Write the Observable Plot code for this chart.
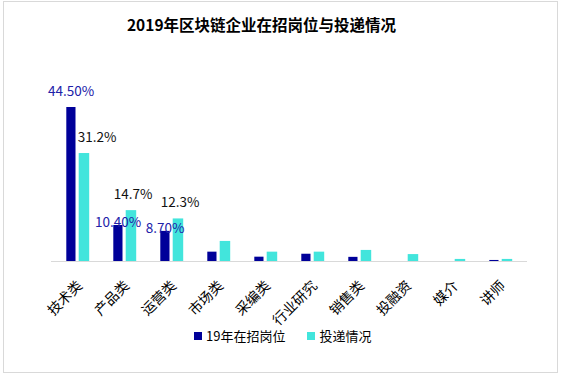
<!DOCTYPE html>
<html>
<head>
<meta charset="utf-8">
<script src="https://cdn.jsdelivr.net/npm/d3@7"></script>
<script src="https://cdn.jsdelivr.net/npm/@observablehq/plot@0.6"></script>
<style>
  html, body { margin: 0; padding: 0; background: #fff; }
  body { width: 561px; height: 376px; position: relative; overflow: hidden;
         font-family: "Noto Sans CJK SC", "Microsoft YaHei", sans-serif; }
  #frame { position: absolute; left: 3px; top: 1px; width: 555px; height: 372px;
           border: 1px solid #d9d9d9; box-sizing: border-box; }
  #title { position: absolute; left: 0; top: 13px; width: 523px; text-align: center;
           font-size: 15.5px; font-weight: bold; line-height: 22px; color: #000; }
  #chart { position: absolute; left: 0; top: 0; }
  #legend { position: absolute; top: 327px; left: 194px; display: flex; align-items: center;
            font-size: 13px; color: #000; line-height: 18px; }
  .item { display: flex; align-items: center; }
  .sw { width: 8px; height: 8px; margin-right: 4px; }
</style>
</head>
<body>
<div id="frame"></div>
<div id="chart"></div>
<div id="title">2019年区块链企业在招岗位与投递情况</div>
<div id="legend"></div>
<script>
const categories = ["技术类", "产品类", "运营类", "市场类", "采编类", "行业研究", "销售类", "投融资", "媒介", "讲师"];
const jobs = [44.5, 10.4, 8.7, 2.7, 1.25, 2.1, 1.2, 0, 0, 0.3];
const applications = [31.2, 14.7, 12.3, 5.8, 2.7, 2.7, 3.2, 2.0, 0.6, 0.6];
const jobLabels = ["44.50%", "10.40%", "8.70%", "", "", "", "", "", "", ""];
const appLabels = ["31.2%", "14.7%", "12.3%", "", "", "", "", "", "", ""];
const seriesNames = ["19年在招岗位", "投递情况"];
const colors = ["#000099", "#42E5DC"];

const jobRows = categories.map((c, i) => ({cat: c, v: jobs[i], label: jobLabels[i], idx: i}));
const appRows = categories.map((c, i) => ({cat: c, v: applications[i], label: appLabels[i], idx: i}));

const font = '"Noto Sans CJK SC", "Microsoft YaHei", sans-serif';

const chart = Plot.plot({
  width: 561,
  height: 340,
  marginLeft: 51,
  marginRight: 34,
  marginTop: 107,
  marginBottom: 79,
  style: {fontFamily: font, fontSize: "13px", color: "#000", background: "transparent"},
  x: {type: "band", domain: categories, padding: 0, label: null},
  y: {domain: [0, 44.5], axis: null},
  marks: [
    Plot.barY(jobRows, {x: "cat", y: "v", fill: colors[0], insetLeft: 12.3, insetRight: 25.5}),
    Plot.barY(appRows, {x: "cat", y: "v", fill: colors[1], insetLeft: 24.7, insetRight: 11.8}),
    Plot.ruleY([0], {stroke: "#d9d9d9", strokeWidth: 1}),
    Plot.axisX({tickSize: 0, tickPadding: 6, tickRotate: -45, fontSize: 14, dx: 2, dy: 16, label: null}),
    Plot.text(jobRows.filter(d => d.label && d.idx === 0), {x: "cat", y: "v", text: "label", dx: -7, dy: -16, fill: "#2020a8", fontSize: 13.5}),
    Plot.text(jobRows.filter(d => d.label && d.idx > 0), {x: "cat", y: "v", text: "label", dx: -7, dy: -3, fill: "#2020a8", fontSize: 13.5}),
    Plot.text(appRows.filter(d => d.label && d.idx === 0), {x: "cat", y: "v", text: "label", dx: 19, dy: -16, fill: "#111", fontSize: 13.5}),
    Plot.text(appRows.filter(d => d.label && d.idx > 0), {x: "cat", y: "v", text: "label", dx: 8, dy: -16, fill: "#111", fontSize: 13.5})
  ]
});
document.getElementById("chart").appendChild(chart);

const legend = document.getElementById("legend");
seriesNames.forEach((name, i) => {
  const item = document.createElement("div");
  item.className = "item";
  if (i > 0) item.style.marginLeft = "22px";
  const sw = document.createElement("div");
  sw.className = "sw";
  sw.style.background = colors[i];
  const t = document.createElement("span");
  t.textContent = name;
  item.appendChild(sw);
  item.appendChild(t);
  legend.appendChild(item);
});
</script>
</body>
</html>
